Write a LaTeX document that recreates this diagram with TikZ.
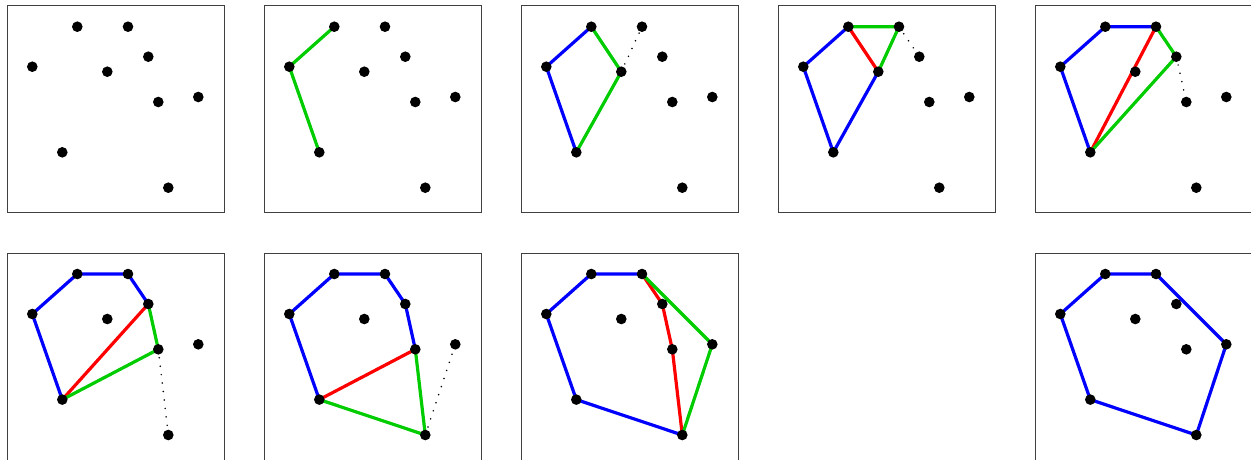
\documentclass[tikz,border=0pt]{standalone}

\definecolor{hullblue}{RGB}{0,0,255}
\definecolor{trialgreen}{RGB}{0,204,0}
\definecolor{popred}{RGB}{255,0,0}

\tikzset{
  panelbox/.style={draw=black!75, line width=0.8pt},
  hull/.style={hullblue, line width=3.2pt, line join=round},
  trial/.style={trialgreen, line width=3.2pt, line join=round},
  popped/.style={popred, line width=3.2pt, line join=round},
  peek/.style={black, line width=1.7pt, line cap=round, dash pattern=on 0pt off 8.5pt}
}

% frame and the nine points of one panel
\newcommand{\setpanel}[3]{%
  \draw[panelbox] (#2,#3) rectangle ++(217,207);
  \foreach \n/\u/\v in {a/25.3/61, b/70.3/21, c/121/21, d/100.3/66, e/141.3/51,
                        f/151.3/96.3, g/191.3/91.3, h/55.3/146.6, i/161.3/182}
    \coordinate (#1\n) at (#2+\u,#3+\v);
}
\newcommand{\putdots}[1]{%
  \foreach \n in {a,b,c,d,e,f,g,h,i} \fill[black] (#1\n) circle (5.3pt);
}

\begin{document}
\begin{tikzpicture}[x=1pt, y=-1pt]
  \useasboundingbox (0,0) rectangle (1251,459);

  % first row
  \setpanel{p1}{7}{5.7}
  \putdots{p1}

  \setpanel{p2}{264}{5.7}
  \draw[trial] (p2h) -- (p2a) -- (p2b);
  \putdots{p2}

  \setpanel{p3}{521}{5.7}
  \draw[hull] (p3h) -- (p3a) -- (p3b);
  \draw[trial] (p3b) -- (p3d) -- (p3h);
  \draw[peek] (p3d) -- (p3c);
  \putdots{p3}

  \setpanel{p4}{778}{5.7}
  \draw[hull] (p4h) -- (p4a) -- (p4b);
  \draw[hull] (p4d) -- (p4h);
  \draw[popped] (p4b) -- (p4d);
  \draw[trial] (p4b) -- (p4c) -- (p4d);
  \draw[peek] (p4c) -- (p4e);
  \putdots{p4}

  \setpanel{p5}{1035}{5.7}
  \draw[hull] (p5h) -- (p5a) -- (p5b) -- (p5c);
  \draw[popped] (p5c) -- (p5h);
  \draw[trial] (p5c) -- (p5e) -- (p5h);
  \draw[peek] (p5e) -- (p5f);
  \putdots{p5}

  % second row
  \setpanel{p6}{7}{253}
  \draw[hull] (p6h) -- (p6a) -- (p6b) -- (p6c) -- (p6e);
  \draw[popped] (p6e) -- (p6h);
  \draw[trial] (p6e) -- (p6f) -- (p6h);
  \draw[peek] (p6f) -- (p6i);
  \putdots{p6}

  \setpanel{p7}{264}{253}
  \draw[hull] (p7h) -- (p7a) -- (p7b) -- (p7c) -- (p7e) -- (p7f);
  \draw[popped] (p7f) -- (p7h);
  \draw[trial] (p7f) -- (p7i) -- (p7h);
  \draw[peek] (p7i) -- (p7g);
  \putdots{p7}

  \setpanel{p8}{521}{253}
  \draw[hull] (p8h) -- (p8a) -- (p8b) -- (p8c);
  \draw[hull] (p8h) -- (p8i);
  \draw[popped] (p8c) -- (p8e) -- (p8f) -- (p8i);
  \draw[trial] (p8c) -- (p8g) -- (p8i);
  \putdots{p8}

  \setpanel{p10}{1035}{253}
  \draw[hull] (p10h) -- (p10a) -- (p10b) -- (p10c) -- (p10g) -- (p10i) -- cycle;
  \putdots{p10}
\end{tikzpicture}
\end{document}
